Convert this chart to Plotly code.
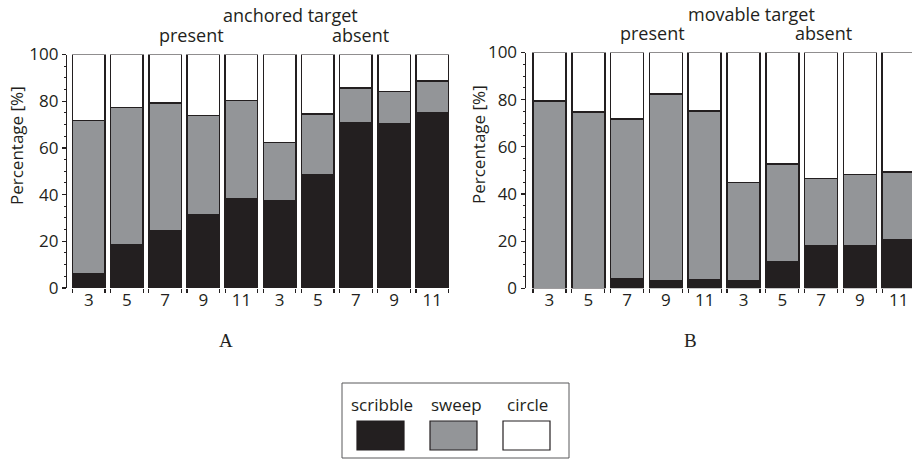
import plotly.graph_objects as go

W, H = 912, 460

categories = ["3", "5", "7", "9", "11", "3", "5", "7", "9", "11"]
series_names = ["scribble", "sweep", "circle"]
colors = {"scribble": "#231f20", "sweep": "#939598", "circle": "#ffffff"}

# Panel A: anchored target (percentages)
a_scribble = [6.0, 18.4, 24.5, 31.4, 38.4, 37.2, 48.6, 70.8, 70.2, 74.9]
a_sweep = [65.8, 58.9, 54.7, 42.4, 41.9, 25.1, 26.0, 14.8, 14.0, 13.8]
a_circle = [28.2, 22.7, 20.8, 26.2, 19.7, 37.7, 25.4, 14.4, 15.8, 11.3]

# Panel B: movable target (percentages)
b_scribble = [0.0, 0.0, 4.2, 3.1, 3.8, 3.1, 11.3, 18.1, 18.1, 20.5]
b_sweep = [79.4, 74.7, 67.7, 79.4, 71.3, 41.7, 41.4, 28.5, 30.2, 28.8]
b_circle = [20.6, 25.3, 28.1, 17.5, 24.9, 55.2, 47.3, 53.4, 51.7, 50.7]

y_ticks = [0, 20, 40, 60, 80, 100]

FONT = "Open Sans"
LINE = "#231f20"
BARW = 0.85


def px(x):
    return x / W


def py(y):
    return 1 - y / H


fig = go.Figure()
xs = list(range(len(categories)))

panels = [
    ("x", "y", [a_scribble, a_sweep, a_circle]),
    ("x2", "y2", [b_scribble, b_sweep, b_circle]),
]
for xa, ya, vals in panels:
    for name, v in zip(series_names, vals):
        fig.add_trace(go.Bar(
            x=xs, y=v, name=name, xaxis=xa, yaxis=ya, width=BARW,
            marker=dict(color=colors[name], line=dict(color=LINE, width=1.5)),
            showlegend=False,
        ))

edges = []
for i in xs:
    edges += [i - BARW / 2, i + BARW / 2]

xcommon = dict(
    tickmode="array", tickvals=xs, ticktext=categories, ticks="", showline=False,
    showgrid=False, zeroline=False, automargin=False,
    tickfont=dict(family=FONT, size=17, color="#231f20"),
    minor=dict(tickmode="array", tickvals=edges, ticks="outside", ticklen=4,
               tickcolor=LINE, tickwidth=1.2),
    fixedrange=True,
)
ycommon = dict(
    range=[0, 100], tickmode="array", tickvals=y_ticks, ticks="outside", ticklen=4,
    tickcolor=LINE, tickwidth=1.2, showline=True, linecolor=LINE, linewidth=1.2,
    showgrid=False, zeroline=False, automargin=False,
    tickfont=dict(family=FONT, size=17, color="#231f20"),
    minor=dict(dtick=5, ticks="outside", ticklen=2, tickcolor=LINE, tickwidth=1),
    fixedrange=True,
)

fig.update_layout(
    width=W, height=H, barmode="stack",
    margin=dict(l=0, r=0, t=0, b=0, autoexpand=False),
    paper_bgcolor="white", plot_bgcolor="white",
    xaxis=dict(domain=[px(67), px(454)], range=[-0.57, 9.57], anchor="y", **xcommon),
    yaxis=dict(domain=[py(288), py(54.5)], anchor="x", **ycommon),
    xaxis2=dict(domain=[px(525.7), px(912)], range=[-0.613, 9.343], anchor="y2", **xcommon),
    yaxis2=dict(domain=[py(288.3), py(52.5)], anchor="x2", **ycommon),
)

def note(text, x, y, size=18, family=FONT, angle=0, xanchor="center"):
    fig.add_annotation(text=text, x=px(x), y=py(y), xref="paper", yref="paper",
                       showarrow=False, xanchor=xanchor, yanchor="middle",
                       textangle=angle, borderpad=0,
                       font=dict(family=family, size=size, color="#231f20"))

note("anchored target", 290, 15)
note("present", 191, 35)
note("absent", 360, 35)
note("movable target", 751, 14)
note("present", 652, 33)
note("absent", 823, 33)
note("Percentage [%]", 17, 146, size=17, angle=-90)
note("Percentage [%]", 478, 145, size=17, angle=-90)
note("A", 226, 340, size=19, family="Liberation Serif")
note("B", 690, 340, size=19, family="Liberation Serif")

# legend box
fig.add_shape(type="rect", xref="paper", yref="paper", x0=px(342), x1=px(569),
              y0=py(458), y1=py(383), line=dict(color="#58595b", width=1), fillcolor="white")
legend_items = [("scribble", 382, 357, 404), ("sweep", 456, 430, 477), ("circle", 527, 503, 550)]
for name, cx, x0, x1 in legend_items:
    note(name, cx, 404, size=17)
    fig.add_shape(type="rect", xref="paper", yref="paper", x0=px(x0), x1=px(x1),
                  y0=py(450), y1=py(421), line=dict(color=LINE, width=1.2),
                  fillcolor=colors[name])

# remove the browser's default page margin so the figure fills the window exactly
fig.write_html("out.html", config={"displayModeBar": False, "staticPlot": True},
               post_script="document.body.style.margin='0';")
